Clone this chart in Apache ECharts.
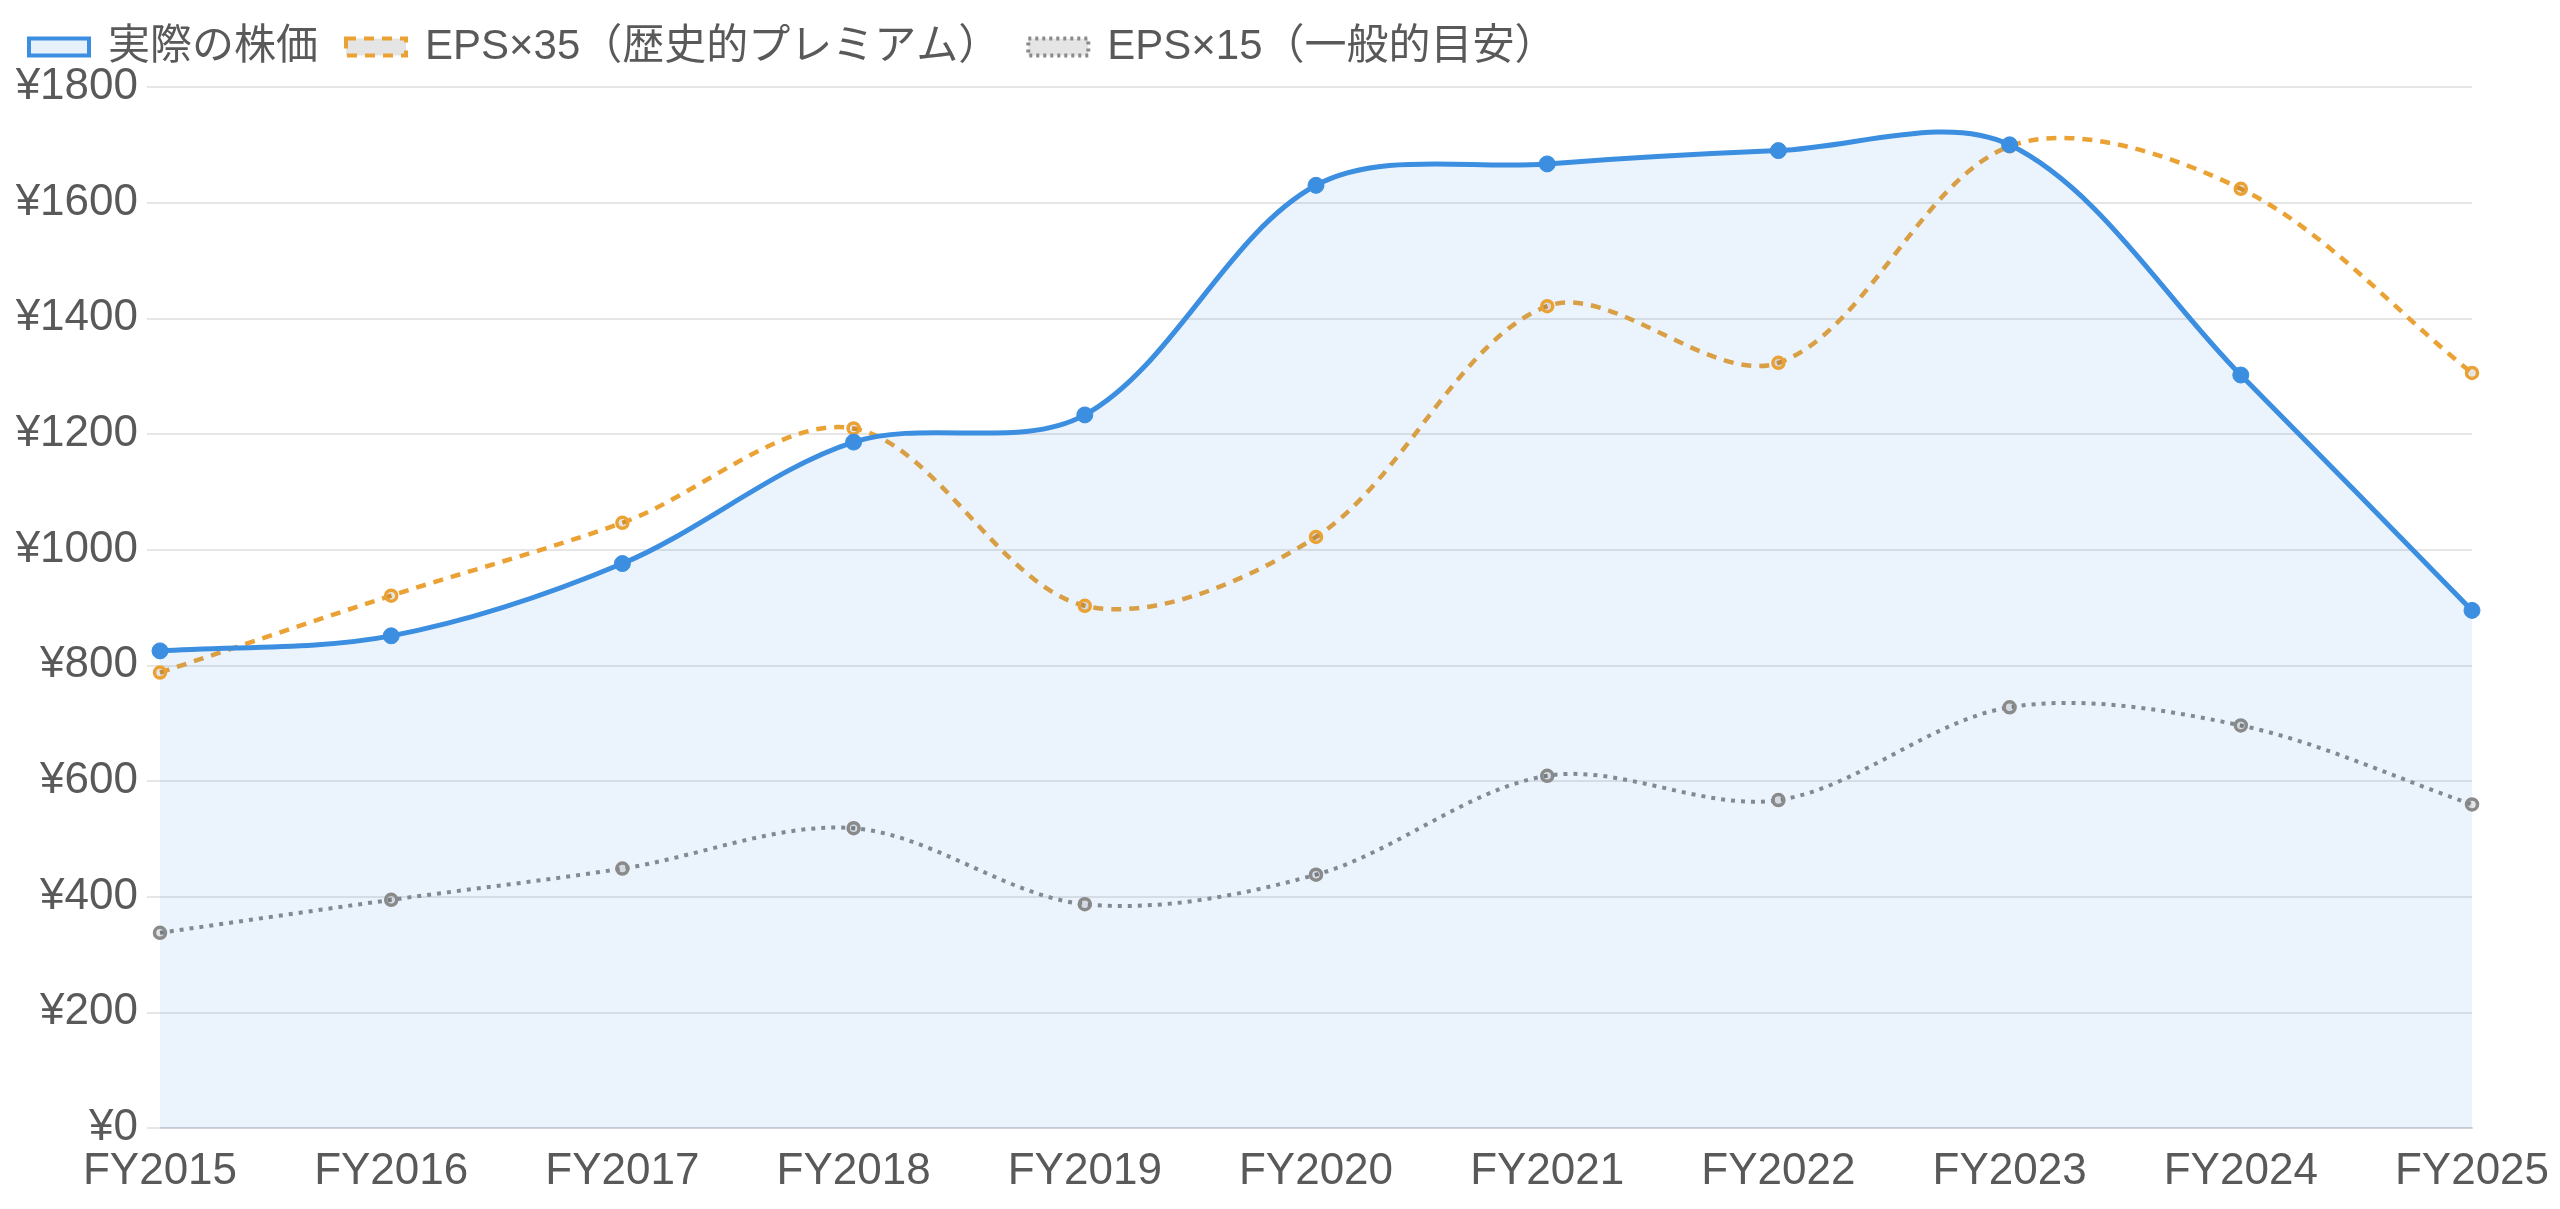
<!DOCTYPE html>
<html>
<head>
<meta charset="utf-8">
<script src="https://cdn.jsdelivr.net/npm/echarts@6/dist/echarts.min.js"></script>
<style>
  html, body { margin: 0; padding: 0; background: #fff; }
  #main { width: 2560px; height: 1209px; }
</style>
</head>
<body>
<div id="main"></div>
<script>
// 年度と各系列の値
var years = ['FY2015', 'FY2016', 'FY2017', 'FY2018', 'FY2019', 'FY2020', 'FY2021', 'FY2022', 'FY2023', 'FY2024', 'FY2025'];
var actualPrice = [825, 851, 976, 1186, 1233, 1630, 1667, 1690, 1700, 1302, 895];
var eps35 = [787.5, 920.5, 1046.5, 1209.6, 903, 1022, 1421, 1323, 1697.5, 1624, 1305.5];
var eps15 = [337.5, 394.5, 448.5, 518.4, 387, 438, 609, 567, 727.5, 696, 559.5];
var seriesNames = ['実際の株価', 'EPS×35（歴史的プレミアム）', 'EPS×15（一般的目安）'];
var yMin = 0, yMax = 1800, yStep = 200;

var blue = '#3b8ee0';
var orange = '#eba234';
var gray = '#8a8a8a';
var textColor = '#595959';
var font = '"Liberation Sans", "Noto Sans CJK JP", sans-serif';
var tension = 0.33;

// 曲線（スプライン）を軸の座標から作る
function curvePath(api, vals) {
    var pts = vals.map(function (v, i) { return api.coord([i, v]); });
    var n = pts.length, cps = [];
    for (var i = 0; i < n; i++) {
        var prev = pts[i - 1] || pts[i], cur = pts[i], next = pts[i + 1] || pts[i];
        var d01 = Math.hypot(cur[0] - prev[0], cur[1] - prev[1]);
        var d12 = Math.hypot(next[0] - cur[0], next[1] - cur[1]);
        var s01 = d01 / (d01 + d12) || 0, s12 = d12 / (d01 + d12) || 0;
        var fa = tension * s01, fb = tension * s12;
        cps.push({
            px: cur[0] - fa * (next[0] - prev[0]), py: cur[1] - fa * (next[1] - prev[1]),
            nx: cur[0] + fb * (next[0] - prev[0]), ny: cur[1] + fb * (next[1] - prev[1])
        });
    }
    var d = 'M' + pts[0][0] + ' ' + pts[0][1];
    for (i = 1; i < n; i++) {
        d += ' C' + cps[i - 1].nx + ' ' + cps[i - 1].ny + ' ' + cps[i].px + ' ' + cps[i].py +
             ' ' + pts[i][0] + ' ' + pts[i][1];
    }
    return { d: d, first: pts[0], last: pts[n - 1] };
}

function lineRender(vals, stroke, width, dash, fill) {
    return function (params, api) {
        var c = curvePath(api, vals);
        var children = [];
        if (fill) {
            var baseY = api.coord([0, yMin])[1];
            var area = c.d + ' L' + c.last[0] + ' ' + baseY + ' L' + c.first[0] + ' ' + baseY + ' Z';
            children.push({ type: 'path', shape: { pathData: area }, style: { fill: fill, stroke: 'none' } });
        }
        children.push({
            type: 'path',
            shape: { pathData: c.d },
            style: { fill: 'none', stroke: stroke, lineWidth: width, lineDash: dash || null }
        });
        return { type: 'group', children: children };
    };
}

var myChart = echarts.init(document.getElementById('main'));
var option = {
    animation: false,
    textStyle: { fontFamily: font },
    grid: {
        left: 160,
        right: 88,
        top: 87,
        bottom: 81,
        outerBoundsMode: 'none'
    },
    legend: {
        left: 22,
        top: 21,
        itemWidth: 60,
        itemHeight: 17,
        itemGap: 26,
        textStyle: {
            fontSize: 42,
            color: textColor,
            fontFamily: font,
            padding: [0, 0, 0, 14]
        },
        data: [
            { name: seriesNames[0], icon: 'rect',
              itemStyle: { color: 'rgba(59,142,224,0.12)', borderColor: blue, borderWidth: 4, borderType: 'solid' } },
            { name: seriesNames[1], icon: 'rect',
              itemStyle: { color: 'rgba(0,0,0,0.1)', borderColor: orange, borderWidth: 4, borderType: [10, 8] } },
            { name: seriesNames[2], icon: 'rect',
              itemStyle: { color: 'rgba(0,0,0,0.1)', borderColor: gray, borderWidth: 4, borderType: [3, 4] } }
        ]
    },
    xAxis: {
        type: 'category',
        boundaryGap: false,
        data: years,
        axisLine: { show: true, lineStyle: { color: '#cfd3d9', width: 2 } },
        axisTick: { show: false },
        axisLabel: { fontSize: 44, color: textColor, margin: 22, fontFamily: font },
        splitLine: { show: false }
    },
    yAxis: {
        type: 'value',
        min: yMin,
        max: yMax,
        interval: yStep,
        axisLine: { show: false },
        axisTick: { show: true, length: 13, lineStyle: { color: '#e6e6e6', width: 2 } },
        axisLabel: {
            fontSize: 44,
            color: textColor,
            margin: 22,
            fontFamily: font,
            formatter: function (v) { return '¥' + v; }
        },
        splitLine: { show: true, lineStyle: { color: '#e6e6e6', width: 2 } }
    },
    series: [
        {
            name: seriesNames[2], type: 'custom', data: [[0, 0]], silent: true, z: 2,
            renderItem: lineRender(eps15, gray, 4, [4, 6])
        },
        {
            name: seriesNames[2],
            type: 'line',
            data: eps15,
            z: 2,
            symbol: 'circle',
            symbolSize: 11,
            lineStyle: { opacity: 0 },
            itemStyle: { color: 'rgba(0,0,0,0.1)', borderColor: gray, borderWidth: 3.5 }
        },
        {
            name: seriesNames[1], type: 'custom', data: [[0, 0]], silent: true, z: 2,
            renderItem: lineRender(eps35, orange, 4.5, [10, 8])
        },
        {
            name: seriesNames[1],
            type: 'line',
            data: eps35,
            z: 2,
            symbol: 'circle',
            symbolSize: 11,
            lineStyle: { opacity: 0 },
            itemStyle: { color: 'rgba(0,0,0,0.1)', borderColor: orange, borderWidth: 3.5 }
        },
        {
            name: seriesNames[0], type: 'custom', data: [[0, 0]], silent: true, z: 2,
            renderItem: lineRender(actualPrice, blue, 5, null, 'rgba(59,142,224,0.1)')
        },
        {
            name: seriesNames[0],
            type: 'line',
            data: actualPrice,
            z: 2,
            symbol: 'circle',
            symbolSize: 16,
            lineStyle: { opacity: 0 },
            itemStyle: { color: blue, borderColor: blue, borderWidth: 1 }
        }
    ]
};
myChart.setOption(option);
</script>
</body>
</html>
